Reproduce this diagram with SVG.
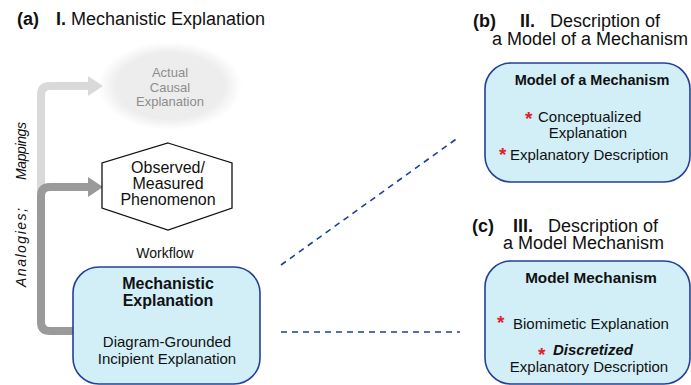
<svg xmlns="http://www.w3.org/2000/svg" width="691" height="385" viewBox="0 0 691 385">
<defs>
<radialGradient id="fog" cx="0.5" cy="0.5" r="0.5">
<stop offset="0" stop-color="#ececec"/>
<stop offset="0.75" stop-color="#ededed"/>
<stop offset="1" stop-color="#ffffff"/>
</radialGradient>
<style>
text{font-family:"Liberation Sans",Arial,sans-serif;fill:#111}
.t{font-size:18px}
.b{font-weight:bold}
.box{fill:#d2eff8;stroke:#23409a;stroke-width:1.6}
.m{font-size:15px}
.star{fill:#e0202a;font-weight:bold;font-size:19px}
.dash{stroke:#1f3f9f;stroke-width:1.6;stroke-dasharray:6,5;fill:none}
</style>
</defs>
<rect width="691" height="385" fill="#fff"/>

<g id="title-a">
<text x="17" y="25" class="t b">(a)</text>
<text x="56" y="25" class="t"><tspan class="b">I.</tspan> Mechanistic Explanation</text>
</g>

<g id="actual">
<ellipse cx="170" cy="86" rx="72" ry="44" fill="url(#fog)"/>
<text x="170" y="77" text-anchor="middle" font-size="13" style="fill:#8c8c8c">Actual</text>
<text x="170" y="92" text-anchor="middle" font-size="13" style="fill:#8c8c8c">Causal</text>
<text x="170" y="106" text-anchor="middle" font-size="13" style="fill:#8c8c8c">Explanation</text>
</g>

<g id="connectors">
<path d="M41,200 V95 Q41,86 50,86 H90" fill="none" stroke="#d9d9d9" stroke-width="8"/>
<polygon points="88,76 103,86 88,96" fill="#d9d9d9"/>
<path d="M74,331 H50 Q41,331 41,322 V196 Q41,187 50,187 H90" fill="none" stroke="#9a9a9a" stroke-width="8"/>
<polygon points="88,177 103,187 88,197" fill="#9a9a9a"/>
<line x1="281" y1="265" x2="459" y2="137" class="dash"/>
<line x1="281" y1="332" x2="460" y2="332" class="dash"/>
</g>

<g id="analogies">
<text transform="translate(26,287) rotate(-90)" font-size="14" font-style="italic" textLength="79" lengthAdjust="spacing">Analogies;</text>
<text transform="translate(26,180) rotate(-90)" font-size="14" font-style="italic" textLength="58" lengthAdjust="spacing">Mappings</text>
</g>

<g id="phenomenon">
<polygon points="168,143 232,163 232,208 168,230 102,208 102,163" fill="#fff" stroke="#111" stroke-width="1.3"/>
<text x="168" y="173" text-anchor="middle" font-size="16">Observed/</text>
<text x="168" y="189" text-anchor="middle" font-size="16">Measured</text>
<text x="168" y="205" text-anchor="middle" font-size="16">Phenomenon</text>
</g>

<g id="workflow">
<text x="165" y="258" text-anchor="middle" font-size="14">Workflow</text>
</g>

<g id="mech-expl">
<rect x="73" y="267" width="187" height="117" rx="26" class="box"/>
<text x="168" y="289" text-anchor="middle" font-size="16" class="b">Mechanistic</text>
<text x="168" y="306" text-anchor="middle" font-size="16" class="b">Explanation</text>
<text x="167" y="347" text-anchor="middle" class="m">Diagram-Grounded</text>
<text x="167" y="364" text-anchor="middle" class="m">Incipient Explanation</text>
</g>

<g id="title-b">
<text x="473" y="27" class="t b">(b)</text>
<text x="520" y="27" class="t"><tspan class="b">II.</tspan><tspan x="550">Description of</tspan></text>
<text x="492" y="45" class="t">a Model of a Mechanism</text>
</g>

<g id="model-of">
<rect x="485" y="63" width="205" height="119" rx="26" class="box"/>
<text x="592" y="85" text-anchor="middle" font-size="14.5" class="b">Model of a Mechanism</text>
<text x="525" y="125" class="star">*</text>
<text x="538" y="122" class="m">Conceptualized</text>
<text x="588" y="138" text-anchor="middle" class="m">Explanation</text>
<text x="499" y="161" class="star">*</text>
<text x="510" y="160" class="m">Explanatory Description</text>
</g>

<g id="title-c">
<text x="472" y="232" class="t b">(c)</text>
<text x="513" y="232" class="t"><tspan class="b">III.</tspan><tspan x="548">Description of</tspan></text>
<text x="503" y="249" class="t">a Model Mechanism</text>
</g>

<g id="model-mech">
<rect x="485" y="261" width="205" height="123" rx="26" class="box"/>
<text x="591" y="283" text-anchor="middle" font-size="15.3" class="b">Model Mechanism</text>
<text x="497" y="329" class="star">*</text>
<text x="513" y="329" class="m">Biomimetic Explanation</text>
<text x="538" y="361" class="star">*</text>
<text x="553" y="355" class="m" font-style="italic" font-weight="bold">Discretized</text>
<text x="589" y="372" text-anchor="middle" class="m">Explanatory Description</text>
</g>
</svg>
